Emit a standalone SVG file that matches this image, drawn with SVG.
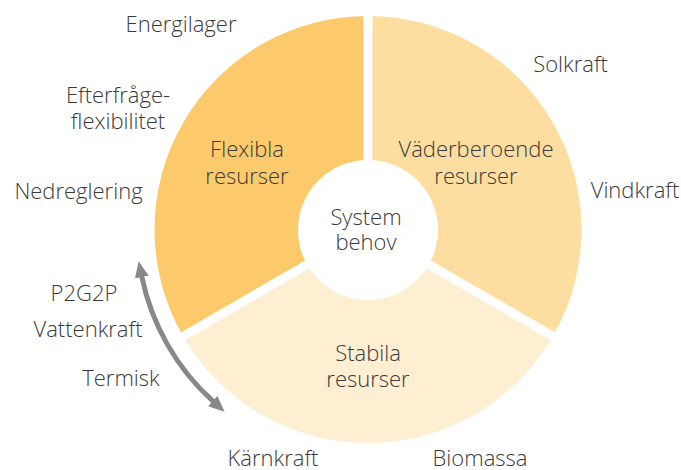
<svg xmlns="http://www.w3.org/2000/svg" width="681" height="470" viewBox="0 0 681 470">
<style>
text{font-family:"Open Sans","Noto Sans","Liberation Sans",sans-serif;font-size:22px;font-weight:300;fill:#3a3a3a}
.c{text-anchor:middle}
.gap{stroke:#fff;stroke-width:9;fill:none}
</style>
<defs>
<marker id="ah" markerUnits="userSpaceOnUse" markerWidth="16" markerHeight="14" viewBox="0 0 16 14" refX="1" refY="7" orient="auto-start-reverse">
<path d="M0,0 L16,7 L0,14 z" fill="#888"/>
</marker>
</defs>
<rect width="681" height="470" fill="#fff"/>
<g id="flexibla">
<path d="M368,229.5 L368,16 A213.5,213.5 0 0 0 183.1,336.25 Z" fill="#FCCA6B"/>
</g>
<g id="vaderberoende">
<path d="M368,229.5 L368,16 A213.5,213.5 0 0 1 552.9,336.25 Z" fill="#FDDEA0"/>
</g>
<g id="stabila">
<path d="M368,229.5 L183.1,336.25 A213.5,213.5 0 0 0 552.9,336.25 Z" fill="#FEEED2"/>
</g>
<g id="gaps">
<line class="gap" x1="368" y1="229.5" x2="368" y2="5"/>
<line class="gap" x1="368" y1="229.5" x2="170" y2="343.8"/>
<line class="gap" x1="368" y1="229.5" x2="566" y2="343.8"/>
</g>
<g id="systembehov">
<circle cx="368" cy="230" r="70" fill="#fff"/>
<text class="c" x="366" y="225">System</text>
<text class="c" x="366" y="250">behov</text>
</g>
<g id="labels-segments">
<text class="c" x="247" y="157">Flexibla</text>
<text class="c" x="247" y="184">resurser</text>
<text class="c" x="476" y="157">Väderberoende</text>
<text class="c" x="476" y="184">resurser</text>
<text class="c" x="368" y="361">Stabila</text>
<text class="c" x="368" y="387">resurser</text>
</g>
<g id="labels-outer">
<text class="c" x="181" y="32">Energilager</text>
<text class="c" x="118" y="103">Efterfråge-</text>
<text class="c" x="118" y="129">flexibilitet</text>
<text class="c" x="78.5" y="199">Nedreglering</text>
<text class="c" x="84" y="301">P2G2P</text>
<text class="c" x="88" y="337">Vattenkraft</text>
<text class="c" x="121" y="386">Termisk</text>
<text class="c" x="273" y="466">Kärnkraft</text>
<text class="c" x="480" y="466">Biomassa</text>
<text class="c" x="570.5" y="72">Solkraft</text>
<text class="c" x="635" y="198">Vindkraft</text>
</g>
<g id="connectors">
<path d="M141.64,276.05 A231,231 0 0 0 213.43,401.67" fill="none" stroke="#888" stroke-width="5" marker-start="url(#ah)" marker-end="url(#ah)"/>
</g>
</svg>
